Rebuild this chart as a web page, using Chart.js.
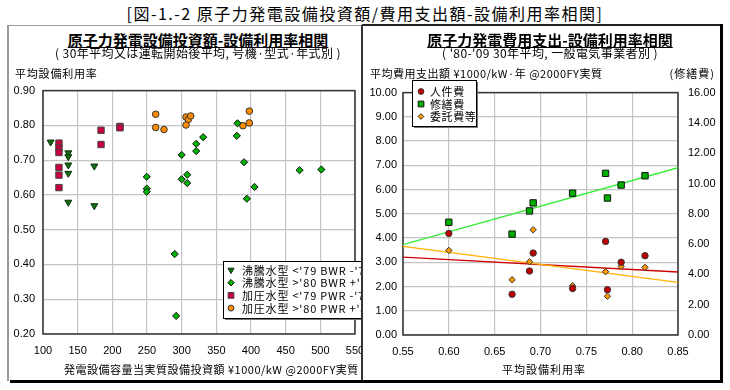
<!DOCTYPE html>
<html><head><meta charset="utf-8">
<script src="https://cdn.jsdelivr.net/npm/chart.js@4/dist/chart.umd.min.js"></script>
<style>
body{margin:0;width:730px;height:390px;background:#fff;position:relative;overflow:hidden;font-family:'Noto Sans CJK JP',sans-serif;color:#000}
.abs{position:absolute;white-space:nowrap}
.ln{position:absolute}
</style></head><body>
<div class="abs" style="left:0;width:730px;top:3px;text-align:center;font-size:16px;line-height:21px;letter-spacing:1.5px">[図-1.-2 原子力発電設備投資額/費用支出額-設備利用率相関]</div>

<div class="abs" style="left:8px;top:76px;width:354px;height:304px;overflow:hidden"><canvas id="c1" width="370" height="304"></canvas></div>
<div class="abs" style="left:362px;top:76px;width:358px;height:304px;overflow:hidden"><canvas id="c2" width="358" height="304"></canvas></div>

<div class="ln" style="left:7px;top:25px;width:355px;height:1px;background:#999"></div>
<div class="ln" style="left:362px;top:24px;width:361px;height:2px;background:#222"></div>
<div class="ln" style="left:7px;top:25px;width:2px;height:356px;background:#999"></div>
<div class="ln" style="left:361px;top:25px;width:2px;height:356px;background:#333"></div>
<div class="ln" style="left:720px;top:24px;width:3px;height:359px;background:#000"></div>
<div class="ln" style="left:10px;top:380px;width:713px;height:3px;background:#000"></div>

<div class="abs" style="left:48px;width:300px;top:30px;text-align:center;font-size:15px;font-weight:bold;line-height:19px;text-decoration:underline">原子力発電設備投資額-設備利用率相関</div>
<div class="abs" style="left:48px;width:300px;top:46px;text-align:center;font-size:12px;line-height:14px;letter-spacing:0.4px">( 30年平均又は運転開始後平均, 号機·型式·年式別 )</div>
<div class="abs" style="left:400px;width:300px;top:30px;text-align:center;font-size:15px;font-weight:bold;line-height:19px;text-decoration:underline">原子力発電費用支出-設備利用率相関</div>
<div class="abs" style="left:400px;width:300px;top:46px;text-align:center;font-size:12px;line-height:14px;letter-spacing:0.4px">( '80-'09 30年平均, 一般電気事業者別 )</div>

<div class="abs" style="left:15px;top:65px;font-size:11px;line-height:16px;letter-spacing:0.8px">平均設備利用率</div>
<div class="abs" style="left:370px;top:65px;font-size:11px;line-height:16px;letter-spacing:0.5px">平均費用支出額 ¥1000/kW·年 @2000FY実質</div>
<div class="abs" style="left:615px;width:100px;text-align:right;top:65px;font-size:11px;line-height:16px;letter-spacing:1px">(修繕費)</div>
<div class="abs" style="left:64px;top:361px;font-size:11px;line-height:16px;letter-spacing:0.5px">発電設備容量当実質設備投資額 ¥1000/kW @2000FY実質</div>
<div class="abs" style="left:444px;width:200px;text-align:center;top:361px;font-size:11px;line-height:16px;letter-spacing:1px">平均設備利用率</div>

<script>
// ---------- Left chart data: investment per kW vs capacity factor ----------
const bwrPre79X  = [111, 136.5, 136.5, 136.5, 136.5, 136.5, 174, 174];
const bwrPre79Y  = [0.752, 0.721, 0.710, 0.686, 0.662, 0.579, 0.683, 0.569];
const bwrPost80X = [249.6, 249.6, 249.6, 300, 300, 308, 308, 321, 321, 331, 379.5, 380.5, 390, 394, 405, 470, 501.5, 290, 292];
const bwrPost80Y = [0.652, 0.618, 0.609, 0.715, 0.645, 0.658, 0.634, 0.747, 0.726, 0.766, 0.770, 0.806, 0.694, 0.589, 0.623, 0.671, 0.673, 0.430, 0.252];
const pwrPre79X  = [123, 123, 123, 123, 123, 123, 183.7, 183.7, 211, 211];
const pwrPre79Y  = [0.749, 0.735, 0.722, 0.679, 0.657, 0.621, 0.786, 0.745, 0.797, 0.793];
const pwrPost80X = [262.5, 262.5, 274.5, 306.3, 309.6, 313, 306.3, 388.4, 397.6, 397.6];
const pwrPost80Y = [0.832, 0.794, 0.788, 0.824, 0.817, 0.827, 0.801, 0.799, 0.841, 0.807];
const leftLabels = ["沸騰水型 <'79 BWR -'79", "沸騰水型 >'80 BWR +'80", "加圧水型 <'79 PWR -'79", "加圧水型 >'80 PWR +'80"];

// ---------- Right chart data: expenditure vs capacity factor ----------
const rateX      = [0.600, 0.669, 0.688, 0.692, 0.735, 0.771, 0.773, 0.788, 0.814];
const laborCost  = [4.19, 1.68, 2.64, 3.38, 1.92, 3.86, 1.87, 3.00, 3.27];
const repairCost = [7.44, 6.66, 8.19, 8.72, 9.36, 10.67, 9.04, 9.90, 10.51]; // right axis
const outsourceCost = [3.49, 2.28, 3.02, 4.34, 2.03, 2.61, 1.60, 2.83, 2.79];
const trendX        = [0.55, 0.85];
const laborTrend    = [3.21, 2.60];
const repairTrend   = [5.97, 11.04]; // right axis
const outsourceTrend= [3.66, 2.17];
const rightLabels = ["人件費", "修繕費", "委託費等"];

const pts = (xs, ys) => xs.map((x, i) => ({x, y: ys[i]}));
const TICKFONT = {family: "'Liberation Sans','Noto Sans CJK JP',sans-serif", size: 11};
Chart.defaults.font.family = "'Noto Sans CJK JP',sans-serif";
Chart.defaults.color = '#000';

const framePlugin = {
  id: 'frame',
  beforeDatasetsDraw(chart) {
    const {ctx, chartArea: a} = chart;
    ctx.save();
    ctx.strokeStyle = '#333'; ctx.lineWidth = 1.5;
    ctx.strokeRect(a.left, a.top, a.right - a.left, a.bottom - a.top);
    ctx.restore();
  }
};
const boxLegend = {
  id: 'boxLegend',
  afterDatasetsDraw(chart, args, o) {
    const ctx = chart.ctx;
    ctx.save();
    ctx.fillStyle = '#777';
    ctx.fillRect(o.x + 2, o.y + 2, o.w, o.h);
    ctx.fillStyle = '#fff';
    ctx.fillRect(o.x, o.y, o.w, o.h);
    ctx.strokeStyle = '#000'; ctx.lineWidth = 1;
    ctx.strokeRect(o.x + 0.5, o.y + 0.5, o.w, o.h);
    o.items.forEach((di, i) => {
      const ds = chart.data.datasets[di];
      const y = o.y + o.row0 + i * o.rowH;
      ctx.fillStyle = ds.backgroundColor;
      ctx.strokeStyle = ds.borderColor;
      ctx.lineWidth = 1;
      Chart.helpers.drawPoint(ctx, {pointStyle: ds.pointStyle, radius: ds.pointRadius * 0.9, borderWidth: 1, rotation: ds.rotation || 0}, o.mx, y);
      ctx.fillStyle = '#000';
      ctx.font = "11px 'Noto Sans CJK JP'";
      ctx.letterSpacing = o.ls;
      ctx.textBaseline = 'middle';
      ctx.textAlign = 'left';
      ctx.fillText(ds.label, o.tx, y + 0.5);
    });
    ctx.restore();
  }
};

new Chart(document.getElementById('c1'), {
  type: 'scatter',
  data: {
    datasets: [
      {label: leftLabels[0], data: pts(bwrPre79X, bwrPre79Y), pointStyle: 'triangle', rotation: 180, pointRadius: 4, backgroundColor: '#107010', borderColor: '#0a300a', borderWidth: 1},
      {label: leftLabels[1], data: pts(bwrPost80X, bwrPost80Y), pointStyle: 'rectRot', pointRadius: 3.6, backgroundColor: '#00b000', borderColor: '#111', borderWidth: 1},
      {label: leftLabels[2], data: pts(pwrPre79X, pwrPre79Y), pointStyle: 'rect', pointRadius: 4.5, backgroundColor: '#c8003c', borderColor: '#444', borderWidth: 1},
      {label: leftLabels[3], data: pts(pwrPost80X, pwrPost80Y), pointStyle: 'circle', pointRadius: 3.3, backgroundColor: '#ff8c00', borderColor: '#333', borderWidth: 1}
    ]
  },
  options: {
    responsive: false, animation: false, devicePixelRatio: 1,
    layout: {padding: {top: 14, right: 23, left: 0, bottom: 0}},
    plugins: {legend: {display: false}, tooltip: {enabled: false},
      boxLegend: {x: 215, y: 185, w: 160, h: 57, mx: 223, tx: 234, row0: 9, rowH: 12.7, ls: '0.8px', items: [0, 1, 2, 3]}},
    scales: {
      x: {type: 'linear', min: 100, max: 550,
          ticks: {stepSize: 50, font: TICKFONT, padding: 10, autoSkip: false, maxRotation: 0, color: '#000'},
          grid: {color: '#c4c4c4', lineWidth: 1.2, drawTicks: false}, border: {display: false},
          afterFit: s => { s.height = 46; }},
      y: {type: 'linear', min: 0.2, max: 0.9,
          ticks: {stepSize: 0.1, font: TICKFONT, padding: 8, color: '#000', callback: v => v.toFixed(2)},
          grid: {color: '#c4c4c4', lineWidth: 1.2, drawTicks: false}, border: {display: false},
          afterFit: s => { s.width = 35; }}
    }
  },
  plugins: [framePlugin, boxLegend]
});

new Chart(document.getElementById('c2'), {
  type: 'scatter',
  data: {
    datasets: [
      {label: rightLabels[0], data: pts(rateX, laborCost), yAxisID: 'y', pointStyle: 'circle', pointRadius: 3.2, backgroundColor: '#c00000', borderColor: '#333', borderWidth: 1, order: 1},
      {label: rightLabels[1], data: pts(rateX, repairCost), yAxisID: 'y2', pointStyle: 'rect', pointRadius: 4.5, backgroundColor: '#00b000', borderColor: '#111', borderWidth: 1, order: 1},
      {label: rightLabels[2], data: pts(rateX, outsourceCost), yAxisID: 'y', pointStyle: 'rectRot', pointRadius: 3.2, backgroundColor: '#ff9900', borderColor: '#333', borderWidth: 1, order: 1},
      {label: 'trend-labor', data: pts(trendX, laborTrend), yAxisID: 'y', showLine: true, pointRadius: 0, borderColor: '#d00000', borderWidth: 1.3, order: 3},
      {label: 'trend-repair', data: pts(trendX, repairTrend), yAxisID: 'y2', showLine: true, pointRadius: 0, borderColor: '#33ee33', borderWidth: 1.3, order: 2},
      {label: 'trend-outsource', data: pts(trendX, outsourceTrend), yAxisID: 'y', showLine: true, pointRadius: 0, borderColor: '#ffb000', borderWidth: 1.3, order: 2}
    ]
  },
  options: {
    responsive: false, animation: false, devicePixelRatio: 1,
    layout: {padding: {top: 13, right: 0, left: 0, bottom: 0}},
    plugins: {legend: {display: false}, tooltip: {enabled: false},
      boxLegend: {x: 50, y: 4, w: 64, h: 46, mx: 59, tx: 68, row0: 11.5, rowH: 12.5, ls: '0.6px', items: [0, 1, 2]}},
    scales: {
      x: {type: 'linear', min: 0.55, max: 0.85,
          ticks: {stepSize: 0.05, font: TICKFONT, padding: 10, autoSkip: false, maxRotation: 0, color: '#000', callback: v => v.toFixed(2)},
          grid: {color: '#c4c4c4', lineWidth: 1.2, drawTicks: false}, border: {display: false},
          afterFit: s => { s.height = 45; }},
      y: {type: 'linear', position: 'left', min: 0, max: 10,
          ticks: {stepSize: 1, font: TICKFONT, padding: 6, color: '#000', callback: v => v.toFixed(2)},
          grid: {color: '#c4c4c4', lineWidth: 1.2, drawTicks: false}, border: {display: false},
          afterFit: s => { s.width = 41; }},
      y2: {type: 'linear', position: 'right', min: 0, max: 16,
          ticks: {stepSize: 2, font: TICKFONT, padding: 10, color: '#000', callback: v => v.toFixed(2)},
          grid: {drawOnChartArea: false, drawTicks: false}, border: {display: false},
          afterFit: s => { s.width = 42; }}
    }
  },
  plugins: [framePlugin, boxLegend]
});
</script>
</body></html>
